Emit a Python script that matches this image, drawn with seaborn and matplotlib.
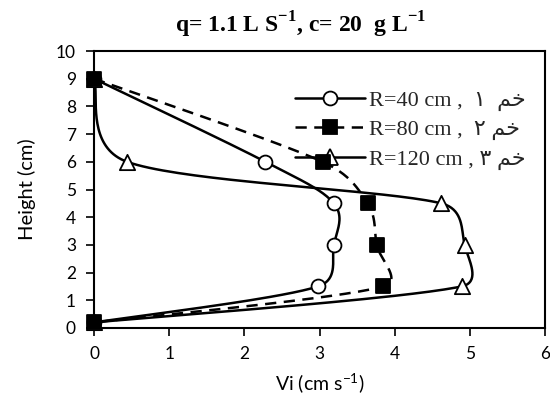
import numpy as np
import pandas as pd
import matplotlib
matplotlib.use("Agg")
import matplotlib.pyplot as plt
from matplotlib.lines import Line2D
import seaborn as sns

# ---- data ----
heights = [9.0, 6.0, 4.5, 3.0, 1.5, 0.2]
v_r40 = [0.0, 2.28, 3.19, 3.19, 2.98, 0.0]
v_r80 = [0.0, 3.04, 3.64, 3.76, 3.85, 0.0]
v_r120 = [0.0, 0.44, 4.62, 4.93, 4.89, 0.0]
arabic_word = "\ufee2\ufea7"  # visual order of "خم"
series_labels = [
    "R=40 cm ,  \u0661  " + arabic_word,
    "R=80 cm ,  \u0662 " + arabic_word,
    "R=120 cm , \u0663 " + arabic_word,
]
x_ticks = [0, 1, 2, 3, 4, 5, 6]
y_ticks = [0, 1, 2, 3, 4, 5, 6, 7, 8, 9, 10]
title_text = r"q= 1.1 L S$^{\mathbf{-1}}$, c= 20  g L$^{\mathbf{-1}}$"
xlabel_text = r"Vi (cm s$^{\mathsf{-1}}$)"
ylabel_text = "Height (cm)"

sns.set_theme(style="white")
plt.rcParams["font.family"] = ["Lato", "DejaVu Sans"]
plt.rcParams["mathtext.fontset"] = "custom"
plt.rcParams["mathtext.rm"] = "Liberation Serif"
plt.rcParams["mathtext.bf"] = "Liberation Serif:bold"
plt.rcParams["mathtext.sf"] = "Lato"

SX, SY = 75.0, 27.7  # pixel scale used for Excel-like smoothing


def excel_smooth(xs, ys, n=40):
    P = np.column_stack([np.asarray(xs) * SX, np.asarray(ys) * SY])
    out = []
    m = len(P)
    for i in range(m - 1):
        p0 = P[i - 1] if i > 0 else P[i]
        p1 = P[i]
        p2 = P[i + 1]
        p3 = P[i + 2] if i + 2 < m else P[i + 1]
        d02 = np.linalg.norm(p2 - p0)
        d12 = np.linalg.norm(p2 - p1)
        d13 = np.linalg.norm(p3 - p1)
        f = 1 / 6 if d02 / 6 < d12 / 2 else d12 / (2 * d02)
        g = 1 / 6 if d13 / 6 < d12 / 2 else d12 / (2 * d13)
        c1 = p1 + f * (p2 - p0)
        c2 = p2 - g * (p3 - p1)
        t = np.linspace(0, 1, n)[:, None]
        seg = ((1 - t) ** 3) * p1 + 3 * ((1 - t) ** 2) * t * c1 + 3 * (1 - t) * t ** 2 * c2 + t ** 3 * p2
        if i > 0:
            seg = seg[1:]
        out.append(seg)
    arr = np.vstack(out)
    return pd.DataFrame({"x": arr[:, 0] / SX, "y": arr[:, 1] / SY})


fig = plt.figure(figsize=(5.5, 3.98), dpi=100)
ax = fig.add_axes([94 / 550, 70 / 398, 451 / 550, 277 / 398])

MS = 10
styles = [
    dict(vals=v_r40, ls="-", marker="o", mfc="white", ms=MS, z=4),
    dict(vals=v_r120, ls="-", marker="^", mfc="white", ms=MS + 1, z=5),
    dict(vals=v_r80, ls=(0, (4.5, 3)), marker="s", mfc="black", ms=MS - 0.5, z=6),
]
for st in styles:
    curve = excel_smooth(st["vals"], heights)
    sns.lineplot(data=curve, x="x", y="y", sort=False, estimator=None, ax=ax,
                 color="black", linewidth=1.8, linestyle=st["ls"], zorder=2)
    pts = pd.DataFrame({"x": st["vals"], "y": heights})
    sns.scatterplot(data=pts, x="x", y="y", ax=ax, marker=st["marker"],
                    s=st["ms"] ** 2, facecolor=st["mfc"], edgecolor="black",
                    linewidth=1.3, zorder=st["z"], clip_on=False)

handles = [
    Line2D([], [], color="black", lw=1.8, ls="-", marker="o", mfc="white", mec="black", ms=MS, mew=1.3),
    Line2D([], [], color="black", lw=1.8, ls=(0, (4.5, 3)), marker="s", mfc="black", mec="black", ms=MS - 0.5, mew=1.3),
    Line2D([], [], color="black", lw=1.8, ls="-", marker="^", mfc="white", mec="black", ms=MS + 1, mew=1.3),
]
leg = ax.legend(handles, series_labels, loc="upper left",
                bbox_to_anchor=((295 - 94) / 451, (328 - 90) / 277),
                frameon=False, handlelength=3.15, handletextpad=0.18,
                labelspacing=0.4, borderaxespad=0, borderpad=0,
                prop={"family": ["Liberation Serif", "DejaVu Sans"], "size": 16})
leg.set_zorder(1.5)

ax.set_xlim(0, 6)
ax.set_ylim(0, 10)
ax.set_xticks(x_ticks)
ax.set_yticks(y_ticks)
ax.tick_params(axis="both", direction="out", length=6, width=1.2, color="black",
               labelsize=12.5, labelcolor="black", bottom=True, left=True, pad=7)
for sp in ax.spines.values():
    sp.set_visible(True)
    sp.set_color("black")
    sp.set_linewidth(1.5)
ax.set_xlabel(xlabel_text, fontsize=14, color="black", labelpad=7)
ax.set_ylabel(ylabel_text, fontsize=14.5, color="black", labelpad=14)

fig.text(301 / 550, 1 - 25 / 398, title_text, ha="center", va="center",
         fontsize=17, fontweight="bold", family="Liberation Serif", color="black")

fig.savefig("out.png", dpi=100, facecolor="white")
